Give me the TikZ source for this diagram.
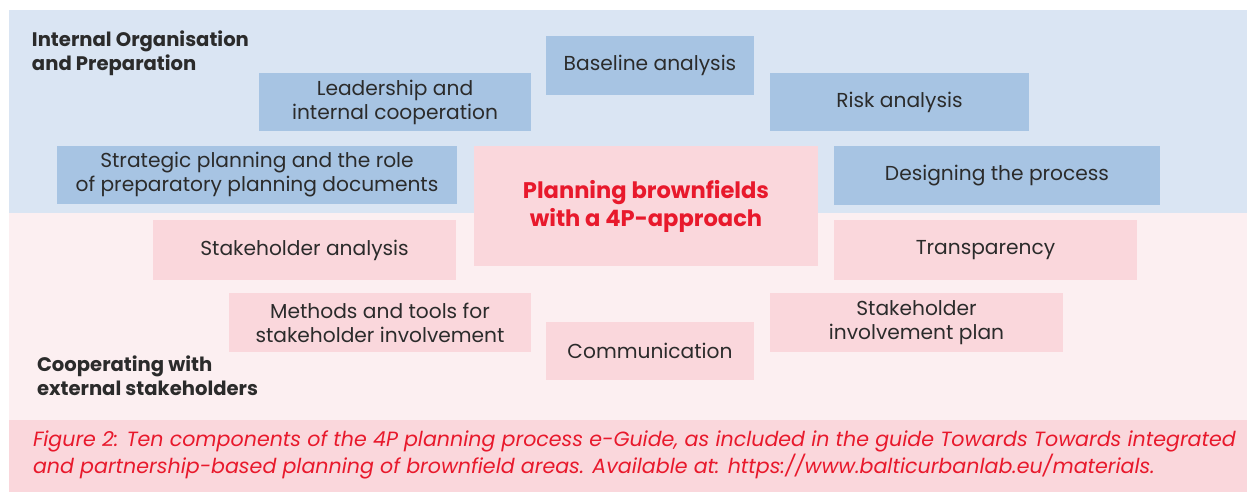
\documentclass[tikz,border=0pt]{standalone}
\usepackage{fontspec}
\setmainfont{Poppins}
\usetikzlibrary{positioning}

\definecolor{bandblue}{HTML}{DAE5F3}
\definecolor{boxblue}{HTML}{A7C4E3}
\definecolor{bandpink}{HTML}{FCEFF1}
\definecolor{boxpink}{HTML}{FAD7DC}
\definecolor{guidered}{HTML}{E8192C}
\definecolor{textgrey}{HTML}{2B2B2B}

\begin{document}
\begin{tikzpicture}[x=0.5pt,y=-0.5pt]
\tikzstyle{every node}=[inner sep=0pt,outer sep=0pt,text=textgrey]
\tikzstyle{comp}=[rectangle,align=center,font=\fontsize{10.1}{12}\selectfont]
\tikzstyle{inner}=[comp,fill=boxblue]
\tikzstyle{outer}=[comp,fill=boxpink]
\tikzstyle{head}=[anchor=west,align=left,font=\fontsize{9.8}{12}\selectfont\bfseries]

\useasboundingbox (0,0) rectangle (1247,492);

% background bands
\fill[bandblue] (9,10) rectangle (1247,213);
\fill[bandpink] (9,213) rectangle (1247,420);
\fill[boxpink] (9,420) rectangle (1247,492);

% internal organisation
\node[inner,minimum width=136pt,minimum height=29pt]   (lead)   at (395,102)   {Leadership and\\internal cooperation};
\node[inner,minimum width=104pt,minimum height=29.5pt] (base)   at (650,65.5)  {Baseline analysis};
\node[inner,minimum width=129.5pt,minimum height=29pt] (risk)   at (899.5,102) {Risk analysis};
\node[inner,minimum width=200pt,minimum height=29pt]   (strat)  at (257,175)   {Strategic planning and the role\\of preparatory planning documents};
\node[inner,minimum width=163pt,minimum height=29.5pt] (design) at (997,175.5)  {Designing the process};

% the core
\node[outer,minimum width=172pt,minimum height=60pt,text=guidered,
      font=\fontsize{11.3}{14}\selectfont\bfseries] (core) at (646,206) {Planning brownfields\\with a 4P-approach};

% external stakeholders
\node[outer,minimum width=151.5pt,minimum height=30pt] (stake)   at (304.5,250) {Stakeholder analysis};
\node[outer,minimum width=151.5pt,minimum height=30pt] (transp)  at (985.5,250) {Transparency};
\node[outer,minimum width=151pt,minimum height=29.5pt] (methods) at (380,322.5) {Methods and tools for\\stakeholder involvement};
\node[outer,minimum width=104pt,minimum height=29pt]   (comm)    at (650,351)   {Communication};
\node[outer,minimum width=146.5pt,minimum height=29.5pt] (plan)  at (916.5,322.5) {Stakeholder\\involvement plan};

% headings
\node[head] (internal) at (32,53)  {Internal Organisation\\and Preparation};
\node[head] (external) at (37,376) {Cooperating with\\external stakeholders};

% caption
\node[anchor=west,align=left,text=guidered,font=\fontsize{10.3}{12}\selectfont\itshape] (caption) at (33,455)
  {Figure 2: Ten components of the 4P planning process e-Guide, as included in the guide Towards Towards integrated\\
   and partnership-based planning of brownfield areas. Available at: https://www.balticurbanlab.eu/materials.};
\end{tikzpicture}
\end{document}
